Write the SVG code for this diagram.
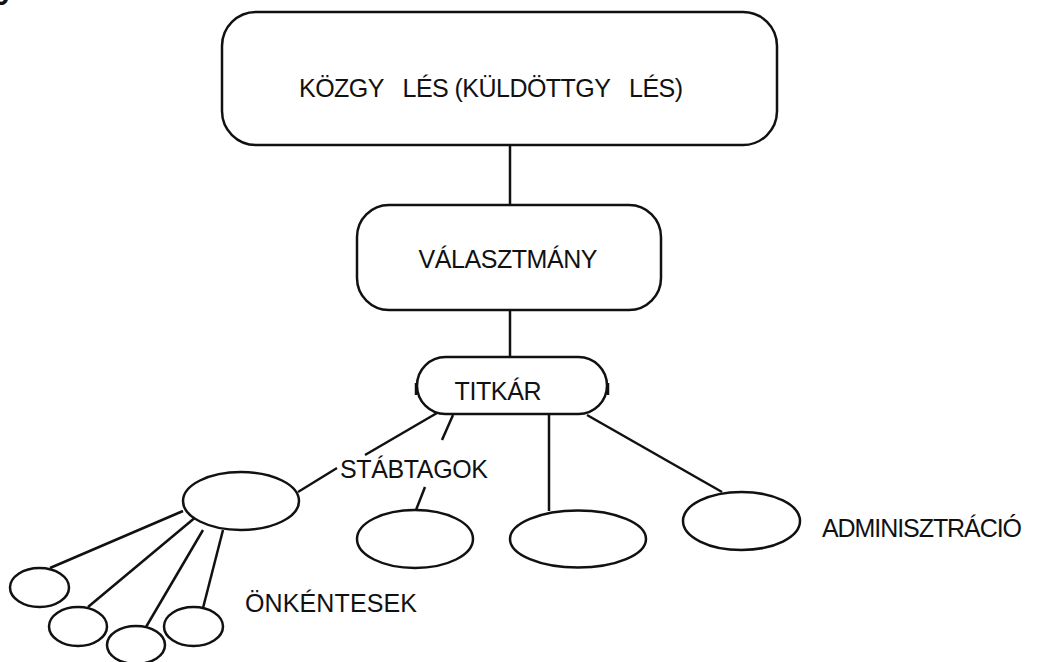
<svg xmlns="http://www.w3.org/2000/svg" width="1037" height="662" viewBox="0 0 1037 662">
<style>
.s{fill:#fff;stroke:#111;stroke-width:2.5}
.c line{stroke:#111;stroke-width:2.5}
text{font-family:"Liberation Sans",Arial,sans-serif;font-size:25px;fill:#111}
</style>
<rect width="1037" height="662" fill="#fff"/>
<text x="-7" y="5" style="font-weight:bold;font-size:30px">9</text>
<g class="c" id="connectors">
<line x1="510" y1="145" x2="510" y2="205"/>
<line x1="510" y1="310" x2="510" y2="357"/>
<line x1="437" y1="413" x2="365" y2="455"/>
<line x1="337" y1="468" x2="298" y2="492"/>
<line x1="453" y1="415" x2="442" y2="440"/>
<line x1="425" y1="487" x2="416" y2="510"/>
<line x1="549" y1="414" x2="549" y2="511"/>
<line x1="587" y1="415" x2="722" y2="492"/>
<line x1="50" y1="568" x2="183" y2="511"/>
<line x1="88" y1="607" x2="203" y2="511"/>
<line x1="146" y1="627" x2="203" y2="530"/>
<line x1="203" y1="608" x2="223" y2="530"/>
<line x1="416" y1="383" x2="416" y2="395"/>
<line x1="608" y1="383" x2="608" y2="395"/>
</g>
<g id="kozgyules">
<rect class="s" x="222" y="12" width="555" height="133" rx="34"/>
<text x="299" y="97" xml:space="preserve" textLength="384">KÖZGY   LÉS (KÜLDÖTTGY   LÉS)</text>
</g>
<g id="valasztmany">
<rect class="s" x="357" y="205" width="304" height="105" rx="32"/>
<text x="508" y="268" text-anchor="middle" textLength="179">VÁLASZTMÁNY</text>
</g>
<g id="titkar">
<rect class="s" x="417" y="357" width="190" height="57" rx="28.5"/>
<text x="498" y="400" text-anchor="middle" textLength="87">TITKÁR</text>
</g>
<g id="stabtagok">
<ellipse class="s" cx="241" cy="501" rx="58" ry="29"/>
<text x="340" y="478" textLength="148">STÁBTAGOK</text>
</g>
<g id="stab2"><ellipse class="s" cx="415" cy="539" rx="58" ry="29"/></g>
<g id="stab3"><ellipse class="s" cx="578" cy="539" rx="68" ry="28.5"/></g>
<g id="admin">
<ellipse class="s" cx="741.5" cy="521" rx="58.5" ry="29"/>
<text x="822" y="537" textLength="200">ADMINISZTRÁCIÓ</text>
</g>
<g id="onk1"><ellipse class="s" cx="39.5" cy="587.5" rx="29.5" ry="19.5"/></g>
<g id="onk2"><ellipse class="s" cx="78" cy="626.5" rx="29" ry="19.5"/></g>
<g id="onk3"><ellipse class="s" cx="136" cy="645" rx="29" ry="19"/></g>
<g id="onk4"><ellipse class="s" cx="193.5" cy="626.5" rx="29.5" ry="19.5"/></g>
<text x="245" y="612" textLength="172">ÖNKÉNTESEK</text>
</svg>
